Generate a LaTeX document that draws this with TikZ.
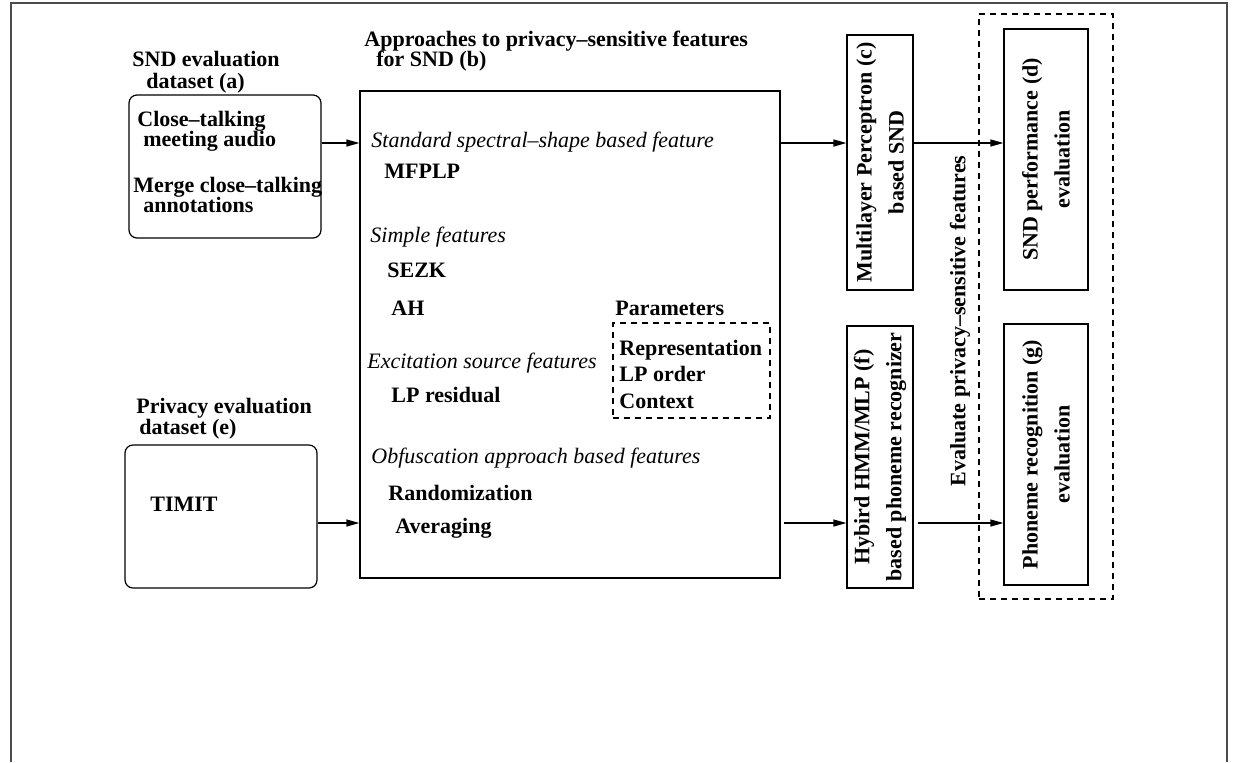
\documentclass[tikz,border=0pt]{standalone}
\usepackage{fontspec}
\setmainfont{Liberation Serif}
\usetikzlibrary{arrows.meta}
\tikzset{
    box/.style={draw,line width=0.6pt,inner sep=0pt},
    roundbox/.style={box,rounded corners=4pt},
    dashbox/.style={box,dash pattern=on 3pt off 2.5pt},
    txt/.style={font=\fontsize{11}{10.5}\selectfont\bfseries,anchor=base west,inner sep=0pt},
    head/.style={font=\fontsize{11}{10.5}\selectfont\itshape,anchor=base west,inner sep=0pt},
    vtxt/.style={font=\fontsize{11}{16}\selectfont\bfseries,align=center,rotate=90,inner sep=0pt},
    pre/.style={-{Triangle[length=6.5pt,width=3.5pt]},line width=0.6pt}
}

\begin{document}
\begin{tikzpicture}[x=0.5pt,y=-0.5pt]

    \useasboundingbox (0,0) rectangle (1236,762);
    \draw[line width=0.6pt,black!70] (11,762) -- (11,3) -- (1227,3) -- (1227,762);

    \coordinate (upper) at (0,143);
    \coordinate (lower) at (0,523);

    % datasets
    \node[txt] (snd title 1) at (132,66) {SND evaluation};
    \node[txt] (snd title 2) at (146,88) {dataset (a)};
    \node[roundbox,minimum width=96pt,minimum height=71.5pt] (snd data) at (225,166.5) {};
    \node[txt] (snd line 1) at (137,126) {Close--talking};
    \node[txt] (snd line 2) at (143,146) {meeting audio};
    \node[txt] (snd line 3) at (133,192) {Merge close--talking};
    \node[txt] (snd line 4) at (143,212) {annotations};

    \node[txt] (priv title 1) at (136,413) {Privacy evaluation};
    \node[txt] (priv title 2) at (139,434) {dataset (e)};
    \node[roundbox,minimum width=96pt,minimum height=71.5pt] (priv data) at (221,516.5) {};
    \node[txt] (timit) at (150,511) {TIMIT};

    % features
    \node[txt] (feat title 1) at (364,46) {Approaches to privacy--sensitive features};
    \node[txt] (feat title 2) at (376,66) {for SND (b)};
    \node[box,minimum width=210pt,minimum height=243.5pt] (features) at (570,334.5) {};

    \node[head] (spectral) at (371,147) {Standard spectral--shape based feature};
    \node[txt]  (mfplp)    at (384,178) {MFPLP};
    \node[head] (simple)   at (370,242) {Simple features};
    \node[txt]  (sezk)     at (387,277) {SEZK};
    \node[txt]  (ah)       at (391,315) {AH};
    \node[head] (source)   at (367,368) {Excitation source features};
    \node[txt]  (residual) at (391,402) {LP residual};
    \node[head] (obfus)    at (371,463) {Obfuscation approach based features};
    \node[txt]  (random)   at (388,500) {Randomization};
    \node[txt]  (average)  at (395,533) {Averaging};

    \node[txt] (param title) at (615,315) {Parameters};
    \node[dashbox,minimum width=78.5pt,minimum height=47.5pt] (params) at (691.5,370.5) {};
    \node[txt] (repr)    at (619,355) {Representation};
    \node[txt] (order)   at (619,381) {LP order};
    \node[txt] (context) at (619,408) {Context};

    % classifiers
    \node[box,minimum width=33pt,minimum height=127.5pt] (mlp) at (880,162.5) {};
    \node[vtxt] (mlp text) at (mlp) {Multilayer Perceptron (c)\\based SND};
    \node[box,minimum width=33pt,minimum height=131pt] (hybrid) at (880,457) {};
    \node[vtxt] (hybrid text) at (hybrid) {Hybird HMM/MLP (f)\\based phoneme recognizer};

    % evaluation
    \node[dashbox,minimum width=67pt,minimum height=292.5pt] (eval group) at (1046,306.5) {};
    \node[vtxt] (eval text) at (960,321) {Evaluate privacy--sensitive features};
    \node[box,minimum width=42pt,minimum height=130.5pt] (snd eval) at (1046,159.5) {};
    \node[vtxt] (snd eval text) at (snd eval) {SND performance (d)\\evaluation};
    \node[box,minimum width=42pt,minimum height=130.5pt] (phone eval) at (1046,454.5) {};
    \node[vtxt] (phone eval text) at (phone eval) {Phoneme recognition (g)\\evaluation};

    % connectors
    \draw[pre] (snd data.east |- upper) -- (features.west |- upper);
    \draw[pre] (priv data.east |- lower) -- (features.west |- lower);
    \draw[pre] (features.east |- upper) -- (mlp.west |- upper);
    \draw[pre,shorten <=1.5pt] (features.east |- lower) -- (hybrid.west |- lower);
    \draw[pre] (mlp.east |- upper) -- (snd eval.west |- upper);
    \draw[pre,shorten <=2pt] (hybrid.east |- lower) -- (phone eval.west |- lower);

\end{tikzpicture}
\end{document}
